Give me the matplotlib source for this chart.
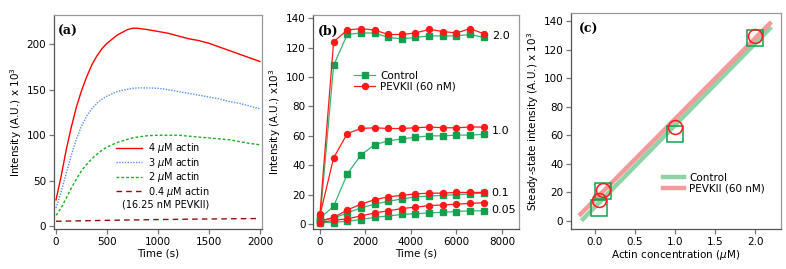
import matplotlib
matplotlib.use("Agg")
import matplotlib.pyplot as plt
from matplotlib.lines import Line2D

plt.rcParams['font.family'] = ['DejaVu Sans']
plt.rcParams['mathtext.fontset'] = 'dejavusans'

# ---- panel (a): kinetic traces
t_a = [0, 50, 100, 150, 200, 250, 300, 350, 400, 450, 500, 600, 700, 750, 800, 900, 1000,
       1100, 1200, 1300, 1400, 1500, 1600, 1700, 1800, 1900, 2000]
actin_4 = [29, 55, 84, 109, 131, 149, 164, 177, 187, 195, 201, 210, 216, 217.5, 217.5, 216, 214,
           212, 209, 206, 204, 201, 197, 193, 189, 185, 181]
actin_3 = [20, 38, 58, 78, 96, 110, 121, 129, 135, 139.5, 143, 148, 150.5, 151.5, 152, 152, 151.5,
           150, 148, 146, 144, 142, 140, 137, 135, 132, 129]
actin_2 = [12, 20, 31, 42, 52, 61, 68, 74, 79, 83.5, 87, 92, 95.5, 97, 98, 99.5, 100,
           100, 100, 99, 98, 97, 96, 95, 93, 91, 89.5]
actin_04 = [5.5, 5.6, 5.7, 5.8, 5.9, 6.0, 6.1, 6.2, 6.3, 6.4, 6.5, 6.7, 6.9, 7.0, 7.0, 7.2, 7.4,
            7.5, 7.6, 7.8, 7.9, 8.0, 8.1, 8.2, 8.3, 8.4, 8.5]

# ---- panel (b): time points and series
t_b = [0, 600, 1200, 1800, 2400, 3000, 3600, 4200, 4800, 5400, 6000, 6600, 7200]
ctrl_20 = [3, 108, 129, 130, 130, 127, 126, 127, 128, 128, 128, 129, 127]
pevk_20 = [7, 124, 132, 133, 132, 129, 129, 130, 132.5, 131, 130, 133, 129.5]
ctrl_10 = [4, 12, 34, 47, 54, 56.5, 58, 59, 60, 60, 60.5, 60.5, 61]
pevk_10 = [6, 45, 61.5, 65, 65.5, 65, 65, 65.5, 66, 65.5, 65.5, 66, 66]
ctrl_01 = [2, 4, 7.5, 11, 13.5, 15.5, 17, 18.5, 19, 19.5, 20, 20.5, 21]
pevk_01 = [2, 4.5, 9.5, 13.5, 16.5, 18.5, 19.5, 20.5, 21, 21, 21.5, 21.5, 21.5]
ctrl_005 = [1, 1, 2, 3, 4.5, 5.5, 6.5, 7, 7.5, 8, 8.5, 9, 9]
pevk_005 = [1, 2.5, 3.5, 5.5, 7.5, 9, 10.5, 11.5, 12.5, 13, 13.5, 14, 14.5]
conc_labels = ["2.0", "1.0", "0.1", "0.05"]
conc_label_y = [128, 63, 21, 9.5]

# ---- panel (c): steady state
conc = [0.05, 0.1, 1.0, 2.0]
ss_ctrl = [9, 21, 61, 128]
ss_pevk = [14.5, 21.5, 66, 129.5]
fit_x_ctrl = [-0.17, 2.2]
fit_ctrl = [0, 136]
fit_x_pevk = [-0.2, 2.2]
fit_pevk = [3.5, 139.5]

GREEN = '#12a04f'
GREEN_LINE = '#3cb371'
RED = '#ff1a1a'
FS = 7.5


def style_axes(ax):
    for s in ['left', 'bottom']:
        ax.spines[s].set_color('#555555')
    for s in ['top', 'right']:
        ax.spines[s].set_color('#999999')
    for s in ax.spines.values():
        s.set_linewidth(0.9)
    ax.tick_params(direction='out', length=3.5, width=0.9, color='#777777',
                   labelsize=FS, pad=2)


fig = plt.figure(figsize=(7.86, 2.69), dpi=100)
ax_a = fig.add_axes([0.0687, 0.1487, 0.2646, 0.7953])
ax_b = fig.add_axes([0.3986, 0.1487, 0.2614, 0.7953])
ax_c = fig.add_axes([0.7261, 0.1487, 0.2675, 0.8019])

# (a)
ax_a.plot(t_a, actin_4, color='red', lw=1.0)
ax_a.plot(t_a, actin_3, color='#5b8ff0', lw=1.0, ls=(0, (1, 1)))
ax_a.plot(t_a, actin_2, color='#22aa22', lw=1.0, ls=(0, (2, 1.5)))
ax_a.plot(t_a, actin_04, color='#8b1010', lw=1.0, ls=(0, (4, 3)))
ax_a.set_xlim(-20, 2020)
ax_a.set_ylim(-3, 232)
ax_a.set_xticks([0, 500, 1000, 1500, 2000])
ax_a.set_yticks([0, 50, 100, 150, 200])
ax_a.set_xlabel('Time (s)', fontsize=FS, labelpad=1)
ax_a.set_ylabel('Intensity (A.U.) x 10$^3$', fontsize=FS, labelpad=2)
style_axes(ax_a)
handles_a = [Line2D([], [], color='red', lw=1.0),
             Line2D([], [], color='#5b8ff0', lw=1.0, ls=(0, (1, 1))),
             Line2D([], [], color='#22aa22', lw=1.0, ls=(0, (2, 1.5))),
             Line2D([], [], color='#8b1010', lw=1.0, ls=(0, (4, 3)))]
labels_a = ['4 $\\mu$M actin', '3 $\\mu$M actin', '2 $\\mu$M actin', '0.4 $\\mu$M actin']
ax_a.legend(handles_a, labels_a, loc='upper left', bbox_to_anchor=(0.3, 0.41),
            frameon=False, fontsize=7, handlelength=2.6, handletextpad=0.6,
            labelspacing=0.05, borderpad=0, borderaxespad=0)
ax_a.text(0.325, 0.115, '(16.25 nM PEVKII)', transform=ax_a.transAxes, fontsize=7,
          va='center', ha='left')
ax_a.text(0.02, 0.955, '(a)', transform=ax_a.transAxes, fontsize=9, fontweight='bold',
          family='DejaVu Serif', va='top', ha='left')

# (b)
kw_c = dict(color=GREEN_LINE, lw=0.9, marker='s', ms=4, mfc=GREEN, mec=GREEN)
kw_p = dict(color=RED, lw=0.9, marker='o', ms=4.3, mfc=RED, mec=RED)
for c_series, p_series in [(ctrl_20, pevk_20), (ctrl_10, pevk_10),
                           (ctrl_01, pevk_01), (ctrl_005, pevk_005)]:
    ax_b.plot(t_b, c_series, **kw_c)
    ax_b.plot(t_b, p_series, **kw_p)
for lab, yy in zip(conc_labels, conc_label_y):
    ax_b.text(7550, yy, lab, fontsize=8, va='center', ha='left')
ax_b.set_xlim(-293, 8740)
ax_b.set_ylim(-3.4, 142.2)
ax_b.set_xticks([0, 2000, 4000, 6000, 8000])
ax_b.set_yticks([0, 20, 40, 60, 80, 100, 120, 140])
ax_b.set_xlabel('Time (s)', fontsize=FS, labelpad=1)
ax_b.set_ylabel('Intensity (A.U.) x10$^3$', fontsize=FS, labelpad=2)
style_axes(ax_b)
handles_b = [Line2D([], [], **kw_c), Line2D([], [], **kw_p)]
ax_b.legend(handles_b, ['Control', 'PEVKII (60 nM)'], loc='upper left',
            bbox_to_anchor=(0.2, 0.74), frameon=False, fontsize=FS,
            handlelength=2.0, handletextpad=0.5, labelspacing=0.1,
            borderpad=0, borderaxespad=0)
ax_b.text(0.02, 0.955, '(b)', transform=ax_b.transAxes, fontsize=9, fontweight='bold',
          family='DejaVu Serif', va='top', ha='left')

# (c)
ax_c.plot(fit_x_ctrl, fit_ctrl, color='#8fd3a6', lw=3.2, solid_capstyle='butt')
ax_c.plot(fit_x_pevk, fit_pevk, color='#f59a9a', lw=3.2, solid_capstyle='butt')
ax_c.plot(conc, ss_ctrl, ls='none', marker='s', ms=11, mfc='none', mec=GREEN, mew=1.1)
ax_c.plot(conc, ss_pevk, ls='none', marker='o', ms=10, mfc='none', mec=RED, mew=1.1)
ax_c.set_xlim(-0.303, 2.32)
ax_c.set_ylim(-5.8, 145.6)
ax_c.set_xticks([0.0, 0.5, 1.0, 1.5, 2.0])
ax_c.set_xticklabels(['0.0', '0.5', '1.0', '1.5', '2.0'])
ax_c.set_yticks([0, 20, 40, 60, 80, 100, 120, 140])
ax_c.set_xlabel('Actin concentration ($\\mu$M)', fontsize=FS, labelpad=1)
ax_c.set_ylabel('Steady-state intensity (A.U.) x 10$^3$', fontsize=FS, labelpad=2)
style_axes(ax_c)
handles_c = [Line2D([], [], color='#8fd3a6', lw=3.2), Line2D([], [], color='#f59a9a', lw=3.2)]
ax_c.legend(handles_c, ['Control', 'PEVKII (60 nM)'], loc='upper left',
            bbox_to_anchor=(0.44, 0.26), frameon=False, fontsize=FS,
            handlelength=2.0, handletextpad=0.5, labelspacing=0.1,
            borderpad=0, borderaxespad=0)
ax_c.text(0.04, 0.955, '(c)', transform=ax_c.transAxes, fontsize=9, fontweight='bold',
          family='DejaVu Serif', va='top', ha='left')

fig.savefig('out.png', dpi=100)
